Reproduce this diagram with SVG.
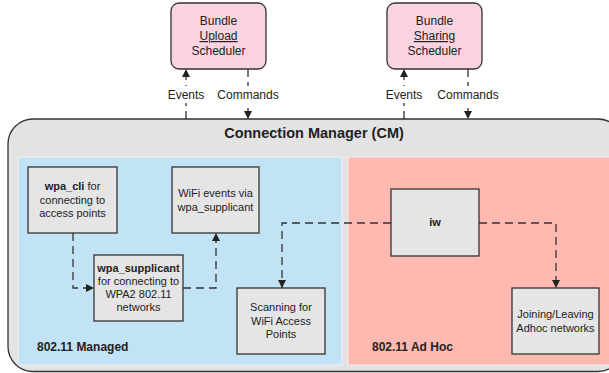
<svg xmlns="http://www.w3.org/2000/svg" width="609" height="373" viewBox="0 0 609 373">
<defs>
<style>
text{font-family:"Liberation Sans",Arial,sans-serif;fill:#222;text-anchor:middle}
.sch{fill:#f9d3df;stroke:#333;stroke-width:1.3}
.node{fill:#e5e5e5;stroke:#333;stroke-width:1.3}
.t11{font-size:11px}
.t12{font-size:12px}
.b{font-weight:bold}
.conn{fill:none;stroke:#333;stroke-width:1.3;stroke-dasharray:8 5}
.lbl{fill:#fff}
</style>
<marker id="ah" viewBox="0 0 10 10" refX="10" refY="5" markerWidth="8" markerHeight="8" markerUnits="userSpaceOnUse" orient="auto">
<path d="M0,0 L10,5 L0,10 z" fill="#222"/>
</marker>
</defs>
<rect width="609" height="373" fill="#fff"/>

<g id="cm">
<rect x="8" y="119" width="615" height="252.5" rx="25" fill="#e3e3e3" stroke="#333" stroke-width="1.3"/>
<text x="314" y="138" style="font-size:14.5px;font-weight:bold">Connection Manager (CM)</text>
</g>
<g id="managed">
<rect x="18" y="157" width="324" height="208" fill="#c2e3f6" stroke="#eef2f4" stroke-width="1"/>
<text x="37" y="351" class="t12 b" style="text-anchor:start">802.11 Managed</text>
</g>
<g id="adhoc">
<rect x="348" y="157" width="270" height="208" fill="#ffb9b1" stroke="#f3eeee" stroke-width="1"/>
<text x="372" y="351" class="t12 b" style="text-anchor:start">802.11 Ad Hoc</text>
</g>

<g id="upload">
<rect class="sch" x="171" y="3" width="95" height="66" rx="8"/>
<text class="t12" x="218.5" y="25">Bundle</text>
<text class="t12" x="218.5" y="40" text-decoration="underline">Upload</text>
<text class="t12" x="218.5" y="55">Scheduler</text>
</g>
<g id="sharing">
<rect class="sch" x="387" y="3" width="95" height="66" rx="8"/>
<text class="t12" x="434.5" y="25">Bundle</text>
<text class="t12" x="434.5" y="40" text-decoration="underline">Sharing</text>
<text class="t12" x="434.5" y="55">Scheduler</text>
</g>

<g id="wpa_cli">
<rect class="node" x="28" y="167" width="89" height="66"/>
<text class="t11" x="72.5" y="190"><tspan class="b">wpa_cli</tspan> for</text>
<text class="t11" x="72.5" y="203.5">connecting to</text>
<text class="t11" x="72.5" y="217">access points</text>
</g>
<g id="wifi_events">
<rect class="node" x="172" y="167" width="87" height="66"/>
<text class="t11" x="215.5" y="197">WiFi events via</text>
<text class="t11" x="215.5" y="210.5">wpa_supplicant</text>
</g>
<g id="wpa_supplicant">
<rect class="node" x="94" y="255" width="89" height="66"/>
<text class="t11 b" x="138.5" y="272">wpa_supplicant</text>
<text class="t11" x="138.5" y="285">for connecting to</text>
<text class="t11" x="138.5" y="298">WPA2 802.11</text>
<text class="t11" x="138.5" y="311">networks</text>
</g>
<g id="scanning">
<rect class="node" x="237" y="288" width="88" height="66"/>
<text class="t11" x="281" y="311">Scanning for</text>
<text class="t11" x="281" y="324.5">WiFi Access</text>
<text class="t11" x="281" y="338">Points</text>
</g>
<g id="iw">
<rect class="node" x="391" y="189" width="88" height="67"/>
<text class="t11 b" x="435" y="226">iw</text>
</g>
<g id="joining">
<rect class="node" x="512" y="288" width="87" height="66"/>
<text class="t11" x="555.5" y="318">Joining/Leaving</text>
<text class="t11" x="555.5" y="331.5">Adhoc networks</text>
</g>

<g id="connectors">
<path class="conn" d="M186,119 V69" marker-end="url(#ah)"/>
<path class="conn" d="M248,69 V119" marker-end="url(#ah)"/>
<path class="conn" d="M404,119 V69" marker-end="url(#ah)"/>
<path class="conn" d="M468,69 V119" marker-end="url(#ah)"/>
<path class="conn" d="M73,233 V288 H94" marker-end="url(#ah)"/>
<path class="conn" d="M183,288 H216 V233" marker-end="url(#ah)"/>
<path class="conn" d="M391,223 H282 V288" marker-end="url(#ah)"/>
<path class="conn" d="M479,223 H556 V288" marker-end="url(#ah)"/>
<rect class="lbl" x="164" y="86" width="44" height="17"/>
<rect class="lbl" x="215" y="86" width="66" height="17"/>
<rect class="lbl" x="382" y="86" width="44" height="17"/>
<rect class="lbl" x="435" y="86" width="66" height="17"/>
<text class="t12" x="186" y="99">Events</text>
<text class="t12" x="248" y="99">Commands</text>
<text class="t12" x="404" y="99">Events</text>
<text class="t12" x="468" y="99">Commands</text>
</g>
</svg>
